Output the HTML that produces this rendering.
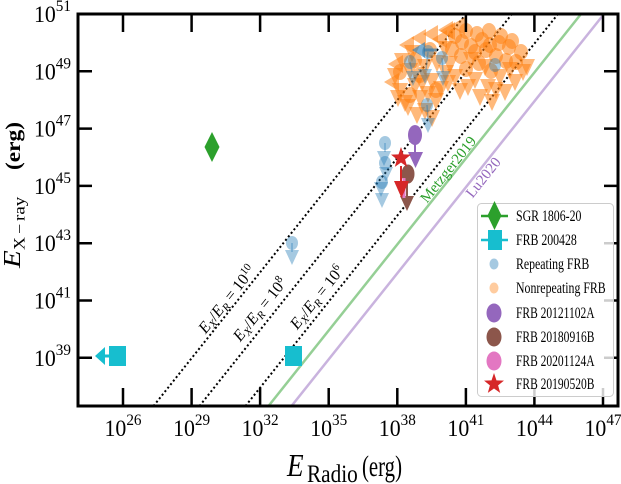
<!DOCTYPE html>
<html><head><meta charset="utf-8"><style>
html,body{margin:0;padding:0;background:#fff;}
svg{display:block;}
text{font-family:"Liberation Serif","DejaVu Serif",serif;fill:#000;}
</style></head><body>
<svg width="621" height="484" viewBox="0 0 621 484" xmlns="http://www.w3.org/2000/svg">
<defs>
<clipPath id="ax"><rect x="78" y="14" width="540" height="392"/></clipPath>
<path id="tv" d="M-7,-6L7,-6L0,9Z"/>
<path id="tl" d="M-8,0L5,-8L5,8Z"/>
<ellipse id="c" cx="0" cy="0" rx="6" ry="7"/>
<path id="tv2" d="M-8,-7L8,-7L0,10Z"/>
<path id="tl2" d="M-9,0L6,-9L6,9Z"/>
<ellipse id="c2" cx="0" cy="0" rx="7" ry="8"/>
<path id="star" d="M0,-11L2.6,-3.6L10.5,-3.4L4.3,1.4L6.5,8.9L0,4.5L-6.5,8.9L-4.3,1.4L-10.5,-3.4L-2.6,-3.6Z"/>
</defs>
<rect width="621" height="484" fill="#fff"/>

<g clip-path="url(#ax)">
<line x1="153.5" y1="406" x2="466" y2="14" stroke="#000" stroke-width="2" stroke-dasharray="2 2.5"/>
<line x1="199.5" y1="406" x2="512" y2="14" stroke="#000" stroke-width="2" stroke-dasharray="2 2.5"/>
<line x1="245.5" y1="406" x2="558" y2="14" stroke="#000" stroke-width="2" stroke-dasharray="2 2.5"/>
<line x1="268.5" y1="406" x2="581" y2="14" stroke="#2ca02c" stroke-opacity="0.5" stroke-width="2.5"/>
<line x1="291.5" y1="406" x2="604" y2="14" stroke="#9467bd" stroke-opacity="0.5" stroke-width="2.5"/>

<!-- Nonrepeating FRB (orange) -->
<g fill="#ff7f0e" fill-opacity="0.55">
<use href="#tv2" x="395" y="75"/><use href="#tv2" x="400" y="90"/><use href="#tv2" x="405" y="102"/><use href="#tv2" x="410" y="70"/>
<use href="#tv2" x="415" y="85"/><use href="#tv2" x="420" y="97"/><use href="#tv2" x="425" y="110"/><use href="#tv2" x="432" y="117"/>
<use href="#tv2" x="417" y="114"/><use href="#tv2" x="436" y="100"/><use href="#tv2" x="441" y="88"/><use href="#tv2" x="432" y="80"/>
<use href="#tv2" x="402" y="60"/><use href="#tv2" x="412" y="52"/><use href="#tv2" x="425" y="66"/><use href="#tv2" x="437" y="62"/>
<use href="#tv2" x="445" y="48"/><use href="#tv2" x="408" y="106"/><use href="#tv2" x="398" y="97"/><use href="#tv2" x="422" y="82"/>
<use href="#tv2" x="428" y="93"/><use href="#tv2" x="446" y="72"/>
<use href="#tl2" x="408" y="45"/><use href="#tl2" x="420" y="38"/><use href="#tl2" x="432" y="34"/><use href="#tl2" x="447" y="30"/>
<use href="#tl2" x="397" y="64"/><use href="#tl2" x="393" y="82"/>
<use href="#c2" x="400" y="72"/><use href="#c2" x="415" y="60"/><use href="#c2" x="420" y="75"/><use href="#c2" x="436" y="90"/>
<use href="#c2" x="410" y="95"/><use href="#c2" x="430" y="50"/>
<use href="#c2" x="455" y="36"/><use href="#c2" x="466" y="31"/><use href="#c2" x="477" y="34"/><use href="#c2" x="489" y="31"/>
<use href="#c2" x="501" y="36"/><use href="#c2" x="512" y="41"/><use href="#c2" x="521" y="52"/><use href="#c2" x="471" y="46"/>
<use href="#c2" x="486" y="50"/><use href="#c2" x="496" y="56"/><use href="#c2" x="506" y="61"/><use href="#c2" x="461" y="56"/>
<use href="#c2" x="479" y="63"/><use href="#c2" x="491" y="71"/><use href="#c2" x="516" y="62"/><use href="#c2" x="509" y="47"/>
<use href="#c2" x="452" y="49"/><use href="#c2" x="466" y="69"/><use href="#c2" x="499" y="43"/><use href="#c2" x="482" y="40"/>
<use href="#c2" x="475" y="52"/><use href="#c2" x="490" y="45"/><use href="#c2" x="462" y="42"/>
<use href="#tv2" x="455" y="76"/><use href="#tv2" x="468" y="86"/><use href="#tv2" x="480" y="96"/><use href="#tv2" x="492" y="101"/>
<use href="#tv2" x="505" y="91"/><use href="#tv2" x="515" y="81"/><use href="#tv2" x="523" y="71"/><use href="#tv2" x="460" y="90"/>
<use href="#tv2" x="475" y="79"/><use href="#tv2" x="488" y="86"/><use href="#tv2" x="500" y="76"/><use href="#tv2" x="510" y="69"/>
<use href="#tv2" x="450" y="63"/><use href="#tv2" x="471" y="59"/><use href="#tv2" x="485" y="66"/><use href="#tv2" x="496" y="89"/>
<use href="#tv2" x="448" y="82"/><use href="#tv2" x="527" y="66"/>
<use href="#tl2" x="449" y="31"/><use href="#tl2" x="441" y="39"/><use href="#tl2" x="459" y="26"/>
</g>

<!-- Repeating FRB (blue) -->
<g stroke="#1f77b4" stroke-opacity="0.4" stroke-width="1.5">
<line x1="292" y1="243" x2="292" y2="252"/><line x1="385" y1="143" x2="385" y2="152"/>
<line x1="410" y1="62" x2="412" y2="72"/><line x1="428" y1="52" x2="426" y2="70"/>
<line x1="442" y1="58" x2="443" y2="72"/><line x1="427" y1="105" x2="428" y2="119"/>
</g>
<g fill="#1f77b4" fill-opacity="0.4">
<use href="#c" x="292" y="243"/><use href="#tv" x="292" y="256"/>
<use href="#c" x="385" y="143"/><use href="#tv" x="384" y="157"/>
<use href="#c" x="385" y="163"/><use href="#tv" x="386" y="173"/>
<use href="#c" x="382" y="182"/><use href="#tv" x="381" y="188"/><use href="#tv" x="382" y="199"/>
<use href="#c" x="410" y="62"/><use href="#tv" x="413" y="77"/>
<use href="#c" x="428" y="52"/><use href="#tv" x="425" y="75"/>
<use href="#c" x="442" y="58"/><use href="#tv" x="443" y="77"/>
<use href="#c" x="427" y="105"/><use href="#tv" x="428" y="124"/>
<use href="#c" x="495" y="65"/>
</g>
<line x1="424" y1="50" x2="437" y2="50" stroke="#1f77b4" stroke-opacity="0.6" stroke-width="3"/>
<use href="#tl" x="420" y="50" fill="#1f77b4" fill-opacity="0.6"/>

<!-- SGR 1806-20 -->
<path d="M212,132L219.5,147L212,162L204.5,147Z" fill="#2ca02c"/>
<!-- FRB 200428 -->
<line x1="104" y1="356" x2="110" y2="356" stroke="#17becf" stroke-width="3"/>
<path d="M95,356L105,347L105,365Z" fill="#17becf"/>
<rect x="109" y="346" width="17" height="20" fill="#17becf"/>
<rect x="285" y="346" width="17" height="20" fill="#17becf"/>

<!-- FRB 20121102A -->
<line x1="415" y1="144" x2="415" y2="156" stroke="#9467bd" stroke-width="2"/>
<ellipse cx="415" cy="135" rx="7" ry="10" fill="#9467bd"/>
<path d="M408,152L423,152L415.5,168Z" fill="#9467bd"/>
<!-- FRB 20180916B -->
<line x1="407" y1="183" x2="407" y2="198" stroke="#8c564b" stroke-width="2"/>
<ellipse cx="408" cy="174" rx="6.5" ry="9.5" fill="#8c564b"/>
<path d="M400,196L414,196L407,211Z" fill="#8c564b"/>
<!-- FRB 20201124A -->
<line x1="404" y1="178" x2="404" y2="198" stroke="#e377c2" stroke-width="3"/>
<!-- FRB 20190520B -->
<line x1="401" y1="166" x2="401" y2="183" stroke="#d62728" stroke-width="2"/>
<use href="#star" transform="translate(401,158) scale(0.95,1)" fill="#d62728"/>
<path d="M394,181L409,181L401.5,198Z" fill="#d62728"/>
</g>

<!-- line labels -->
<text transform="translate(231,302.5) rotate(-51.4)" text-anchor="middle" font-size="16"><tspan font-style="italic">E</tspan><tspan font-size="11" font-style="italic" dy="3">X</tspan><tspan dy="-3">/</tspan><tspan font-style="italic">E</tspan><tspan font-size="11" font-style="italic" dy="3">R</tspan><tspan dy="-3"> = 10</tspan><tspan font-size="11" dy="-6">10</tspan></text>
<text transform="translate(264,312.5) rotate(-51.4)" text-anchor="middle" font-size="16"><tspan font-style="italic">E</tspan><tspan font-size="11" font-style="italic" dy="3">X</tspan><tspan dy="-3">/</tspan><tspan font-style="italic">E</tspan><tspan font-size="11" font-style="italic" dy="3">R</tspan><tspan dy="-3"> = 10</tspan><tspan font-size="11" dy="-6">8</tspan></text>
<text transform="translate(321,300.5) rotate(-51.4)" text-anchor="middle" font-size="16"><tspan font-style="italic">E</tspan><tspan font-size="11" font-style="italic" dy="3">X</tspan><tspan dy="-3">/</tspan><tspan font-style="italic">E</tspan><tspan font-size="11" font-style="italic" dy="3">R</tspan><tspan dy="-3"> = 10</tspan><tspan font-size="11" dy="-6">6</tspan></text>
<text transform="translate(452,172.5) rotate(-51.4)" text-anchor="middle" font-size="15" style="fill:#2ca02c">Metzger2019</text>
<text transform="translate(487,180.5) rotate(-51.4)" text-anchor="middle" font-size="15" style="fill:#9467bd">Lu2020</text>

<!-- spines and ticks -->
<rect x="78" y="14" width="540" height="392" fill="none" stroke="#000" stroke-width="3"/>
<g stroke="#000" stroke-width="2.5">
<path d="M123,406V388M191.6,406V388M260.1,406V388M328.7,406V388M397.3,406V388M465.9,406V388M534.4,406V388M603,406V388"/>
<path d="M123,14V32M191.6,14V32M260.1,14V32M328.7,14V32M397.3,14V32M465.9,14V32M534.4,14V32M603,14V32"/>
<path d="M78,71.3H92M78,128.6H92M78,185.9H92M78,243.2H92M78,300.5H92M78,357.8H92"/>
<path d="M618,71.3H604M618,128.6H604M618,185.9H604M618,243.2H604M618,300.5H604M618,357.8H604"/>
</g>

<!-- tick labels -->
<g font-size="23" text-anchor="middle">
<text transform="translate(123,436) scale(0.95,1)">10<tspan font-size="16" dy="-11">26</tspan></text>
<text transform="translate(191.6,436) scale(0.95,1)">10<tspan font-size="16" dy="-11">29</tspan></text>
<text transform="translate(260.1,436) scale(0.95,1)">10<tspan font-size="16" dy="-11">32</tspan></text>
<text transform="translate(328.7,436) scale(0.95,1)">10<tspan font-size="16" dy="-11">35</tspan></text>
<text transform="translate(397.3,436) scale(0.95,1)">10<tspan font-size="16" dy="-11">38</tspan></text>
<text transform="translate(465.9,436) scale(0.95,1)">10<tspan font-size="16" dy="-11">41</tspan></text>
<text transform="translate(534.4,436) scale(0.95,1)">10<tspan font-size="16" dy="-11">44</tspan></text>
<text transform="translate(603,436) scale(0.95,1)">10<tspan font-size="16" dy="-11">47</tspan></text>
</g>
<g font-size="23" text-anchor="end">
<text transform="translate(71,22) scale(0.95,1)">10<tspan font-size="16" dy="-11">51</tspan></text>
<text transform="translate(71,79.3) scale(0.95,1)">10<tspan font-size="16" dy="-11">49</tspan></text>
<text transform="translate(71,136.6) scale(0.95,1)">10<tspan font-size="16" dy="-11">47</tspan></text>
<text transform="translate(71,193.9) scale(0.95,1)">10<tspan font-size="16" dy="-11">45</tspan></text>
<text transform="translate(71,251.2) scale(0.95,1)">10<tspan font-size="16" dy="-11">43</tspan></text>
<text transform="translate(71,308.5) scale(0.95,1)">10<tspan font-size="16" dy="-11">41</tspan></text>
<text transform="translate(71,365.8) scale(0.95,1)">10<tspan font-size="16" dy="-11">39</tspan></text>
</g>

<!-- axis labels -->
<text transform="translate(287,476) scale(0.85,1)" font-size="32" font-style="italic">E</text>
<text transform="translate(307,482) scale(0.85,1)" font-size="25">Radio</text>
<text x="362" y="476" font-size="30" textLength="40" lengthAdjust="spacingAndGlyphs">(erg)</text>

<g transform="translate(20,268) scale(0.85,1) rotate(-90)">
<text x="0" y="0" font-size="29" font-style="italic">E</text>
<text x="18" y="5" font-size="18">X</text>
<text x="34" y="5" font-size="18">−</text>
<text x="47" y="5" font-size="19">ray</text>
<text x="98" y="0" font-size="25" font-weight="bold" textLength="48" lengthAdjust="spacingAndGlyphs">(erg)</text>
</g>

<!-- legend -->
<rect x="477.5" y="203.5" width="136" height="193" rx="4" fill="#fff" fill-opacity="0.8" stroke="#cccccc" stroke-width="1"/>
<line x1="481" y1="216" x2="508" y2="216" stroke="#2ca02c" stroke-width="2.5"/>
<path d="M494.5,201L501.5,215.5L494.5,230L487.5,215.5Z" fill="#2ca02c"/>
<line x1="481" y1="240" x2="508" y2="240" stroke="#17becf" stroke-width="2.5"/>
<rect x="488" y="230" width="14" height="20" fill="#17becf"/>
<ellipse cx="494" cy="264" rx="4.5" ry="5.5" fill="#1f77b4" fill-opacity="0.4"/>
<ellipse cx="494" cy="288" rx="4.5" ry="5.5" fill="#ff7f0e" fill-opacity="0.4"/>
<ellipse cx="494" cy="313" rx="7.5" ry="9.5" fill="#9467bd"/>
<ellipse cx="494" cy="337" rx="7.5" ry="9.5" fill="#8c564b"/>
<ellipse cx="494" cy="361" rx="7.5" ry="9.5" fill="#e377c2"/>
<use href="#star" transform="translate(494,384) scale(0.95,1)" fill="#d62728"/>
<g font-size="16">
<text transform="translate(516,221) scale(0.74,1)">SGR 1806-20</text>
<text transform="translate(516,245) scale(0.74,1)">FRB 200428</text>
<text transform="translate(516,269) scale(0.74,1)">Repeating FRB</text>
<text transform="translate(516,293) scale(0.74,1)">Nonrepeating FRB</text>
<text transform="translate(516,318) scale(0.72,1)">FRB 20121102A</text>
<text transform="translate(516,342) scale(0.72,1)">FRB 20180916B</text>
<text transform="translate(516,366) scale(0.72,1)">FRB 20201124A</text>
<text transform="translate(516,389) scale(0.72,1)">FRB 20190520B</text>
</g>
</svg>
</body></html>
